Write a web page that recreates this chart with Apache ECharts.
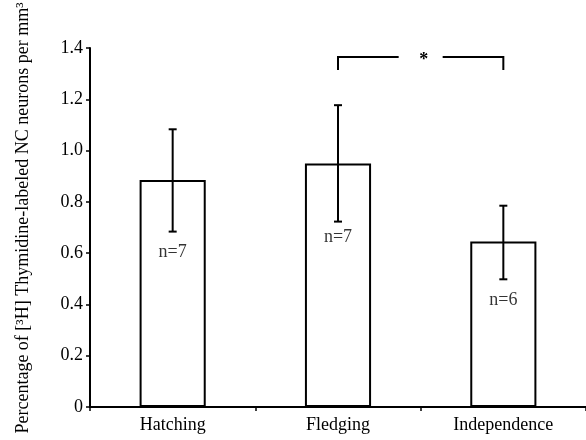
<!DOCTYPE html>
<html><head><meta charset="utf-8">
<script src="https://cdn.jsdelivr.net/npm/echarts@6/dist/echarts.min.js"></script>
<style>html,body{margin:0;padding:0;background:#fff}#c{width:586px;height:440px}</style>
</head><body><div id="c"></div>
<script>
const categories = ['Hatching', 'Fledging', 'Independence'];
const means = [0.885, 0.950, 0.645];
const errLow = [0.684, 0.723, 0.498];
const errHigh = [1.083, 1.177, 0.785];
const nLabels = ['n=7', 'n=7', 'n=6'];
const nLabelY = [0.605, 0.66, 0.417];
const yTicks = { min: 0, max: 1.4, interval: 0.2 };
const bracket = { from: 1, to: 2, top: 1.365, bottom: 1.314, text: '*' };

const font = 'Liberation Serif, Times New Roman, serif';
const chart = echarts.init(document.getElementById('c'));
chart.setOption({
  animation: false,
  backgroundColor: '#fff',
  grid: { left: 90, top: 48, bottom: 33, width: 500 },
  xAxis: {
    type: 'category', data: categories,
    axisLine: { lineStyle: { color: '#000', width: 2 } },
    axisTick: { show: true, length: 4, lineStyle: { color: '#000', width: 1.5 } },
    axisLabel: { color: '#000', fontFamily: font, fontSize: 18, margin: 9 }
  },
  yAxis: {
    type: 'value', min: yTicks.min, max: yTicks.max, interval: yTicks.interval,
    splitLine: { show: false },
    axisLine: { show: true, lineStyle: { color: '#000', width: 2 } },
    axisTick: { show: true, length: 4, lineStyle: { color: '#000', width: 1.5 } },
    axisLabel: { color: '#000', fontFamily: font, fontSize: 18, margin: 7,
      formatter: v => v === 0 ? '0' : v.toFixed(1) }
  },
  graphic: [{
    type: 'text', x: 23, y: 218, rotation: Math.PI / 2,
    style: { text: 'Percentage of [³H] Thymidine-labeled NC neurons per mm³',
      fontFamily: font, fontSize: 18, fill: '#000', align: 'center', verticalAlign: 'middle' }
  }],
  series: [
    {
      type: 'bar', data: means, barWidth: '40%',
      itemStyle: { color: '#fff', borderColor: '#000', borderWidth: 2 }
    },
    {
      type: 'custom',
      data: categories.map((c, i) => [i, errLow[i], errHigh[i]]),
      renderItem: (params, api) => {
        const x = api.value(0);
        const lo = api.coord([x, api.value(1)]);
        const hi = api.coord([x, api.value(2)]);
        const w = 4;
        const st = { stroke: '#000', lineWidth: 2 };
        return { type: 'group', children: [
          { type: 'line', shape: { x1: lo[0], y1: lo[1], x2: hi[0], y2: hi[1] }, style: st },
          { type: 'line', shape: { x1: lo[0] - w, y1: lo[1], x2: lo[0] + w, y2: lo[1] }, style: st },
          { type: 'line', shape: { x1: hi[0] - w, y1: hi[1], x2: hi[0] + w, y2: hi[1] }, style: st }
        ]};
      },
      z: 5
    },
    {
      type: 'scatter', symbolSize: 0,
      data: categories.map((c, i) => ({ value: [i, nLabelY[i]], label: { formatter: nLabels[i] } })),
      label: { show: true, position: 'inside', color: '#000', fontFamily: font, fontSize: 18 },
      z: 6
    },
    {
      type: 'custom',
      data: [[bracket.from, bracket.to, bracket.top, bracket.bottom]],
      renderItem: (params, api) => {
        const a = api.coord([api.value(0), api.value(2)]);
        const b = api.coord([api.value(1), api.value(2)]);
        const a2 = api.coord([api.value(0), api.value(3)]);
        const b2 = api.coord([api.value(1), api.value(3)]);
        const mid = (a[0] + b[0]) / 2;
        const gap = 22;
        const st = { stroke: '#000', lineWidth: 2, fill: null };
        return { type: 'group', children: [
          { type: 'polyline', shape: { points: [[a2[0], a2[1]], [a[0], a[1]], [mid - gap, a[1]]] }, style: st },
          { type: 'polyline', shape: { points: [[mid + gap, b[1]], [b[0], b[1]], [b2[0], b2[1]]] }, style: st },
          { type: 'text', x: mid + 3, y: a[1] + 3, style: { text: bracket.text, fontFamily: font, fontSize: 18, fontWeight: 'bold', fill: '#000', align: 'center', verticalAlign: 'middle' } }
        ]};
      }
    }
  ]
});
</script></body></html>
